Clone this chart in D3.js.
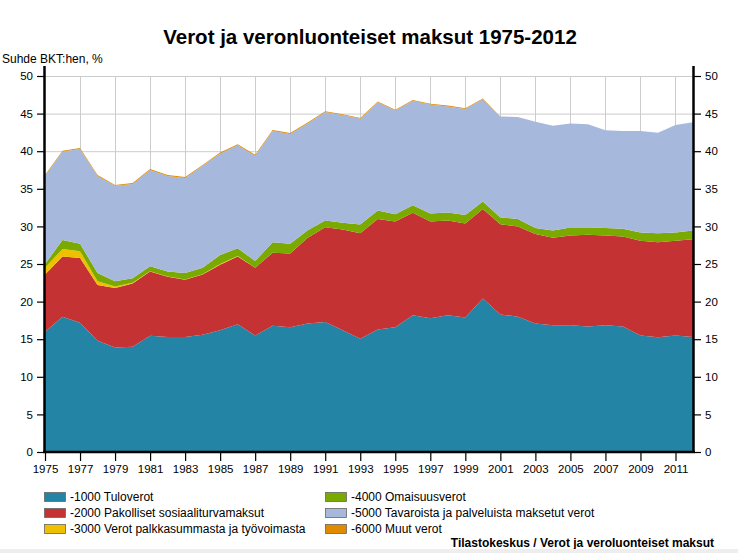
<!DOCTYPE html>
<html>
<head>
<meta charset="utf-8">
<script src="https://cdn.jsdelivr.net/npm/d3@7"></script>
<style>
  html, body { margin: 0; padding: 0; background: #fff; }
  svg { display: block; }
  text { font-family: "Liberation Sans", Arial, Helvetica, sans-serif; }
</style>
</head>
<body>
<svg id="chart" width="738" height="553"></svg>
<script>
// ---- data (share of GDP, %) ----
const years = d3.range(1975, 2013);
const tuloverot = [16.0, 18.0, 17.2, 14.8, 13.9, 14.0, 15.45, 15.3, 15.3, 15.6, 16.2, 17.0, 15.5, 16.8, 16.6, 17.1, 17.3, 16.2, 15.05, 16.3, 16.6, 18.2, 17.8, 18.2, 17.9, 20.4, 18.3, 18.0, 17.1, 16.85, 16.85, 16.7, 16.85, 16.7, 15.5, 15.25, 15.5, 15.3];
const sosiaaliturva = [7.6, 8.0, 8.6, 7.4, 7.9, 8.4, 8.55, 8.0, 7.6, 8.0, 8.7, 9.0, 9.0, 9.7, 9.8, 11.4, 12.6, 13.4, 14.05, 14.7, 14.05, 13.6, 12.85, 12.6, 12.5, 11.9, 12.0, 12.0, 11.9, 11.65, 11.95, 12.2, 11.95, 11.95, 12.6, 12.65, 12.6, 13.0];
const palkkasumma = [0.9, 1.0, 0.9, 0.5, 0.2, 0.1, 0.05, 0.05, 0.05, 0.05, 0.1, 0.05, 0, 0, 0, 0, 0, 0, 0, 0, 0, 0, 0, 0, 0, 0, 0, 0, 0, 0, 0, 0, 0, 0, 0, 0, 0, 0];
const omaisuusverot = [0.5, 1.2, 1.0, 1.1, 0.7, 0.6, 0.65, 0.65, 0.85, 0.85, 1.2, 1.05, 0.9, 1.4, 1.3, 1.0, 0.9, 0.9, 1.15, 1.1, 0.95, 1.0, 1.05, 1.05, 1.1, 1.0, 0.9, 1.0, 0.8, 0.95, 1.05, 0.95, 1.0, 1.05, 1.1, 1.2, 1.1, 1.15];
const tavaraverot = [11.7, 11.75, 12.6, 12.9, 12.7, 12.55, 12.8, 12.7, 12.65, 13.55, 13.5, 13.7, 14.0, 14.8, 14.6, 14.2, 14.4, 14.3, 14.05, 14.4, 13.8, 13.9, 14.5, 14.1, 14.1, 13.6, 13.4, 13.55, 14.1, 13.95, 13.85, 13.75, 13.0, 13.0, 13.5, 13.35, 14.3, 14.4];
const muutverot = [0.12, 0.12, 0.12, 0.12, 0.12, 0.12, 0.12, 0.12, 0.12, 0.12, 0.12, 0.12, 0.12, 0.12, 0.12, 0.12, 0.12, 0.12, 0.12, 0.12, 0.12, 0.12, 0.12, 0.12, 0.12, 0.12, 0, 0, 0, 0, 0, 0, 0, 0, 0, 0, 0, 0];

const seriesNames = ["-1000 Tuloverot", "-2000 Pakolliset sosiaaliturvamaksut", "-3000 Verot palkkasummasta ja työvoimasta", "-4000 Omaisuusverot", "-5000 Tavaroista ja palveluista maksetut verot", "-6000 Muut verot"];
const seriesColors = ["#2384a5", "#c43234", "#eec000", "#7aaa00", "#a6b8db", "#e08a00"];
const yTicks = [0, 5, 10, 15, 20, 25, 30, 35, 40, 45, 50];
const xTickYears = d3.range(1975, 2012, 2);
const titleText = "Verot ja veronluonteiset maksut 1975-2012";
const yLabel = "Suhde BKT:hen, %";
const sourceText = "Tilastokeskus / Verot ja veroluonteiset maksut";

const seriesValues = [tuloverot, sosiaaliturva, palkkasumma, omaisuusverot, tavaraverot, muutverot];
const keys = seriesNames.map((_, i) => "s" + i);
const table = years.map((yr, j) => {
  const row = { year: yr };
  keys.forEach((k, i) => { row[k] = seriesValues[i][j]; });
  return row;
});

// ---- layout ----
const svg = d3.select("#chart");
const pLeft = 45, pRight = 693, pTop = 76, pBottom = 452;

const x = d3.scaleLinear().domain([1975, 2012]).range([pLeft, pRight]);
const y = d3.scaleLinear().domain([0, 50]).range([pBottom, pTop]);

// grid
const grid = svg.append("g");
grid.selectAll("line.h").data(yTicks.filter(d => d > 0)).join("line")
  .attr("x1", pLeft).attr("x2", pRight)
  .attr("y1", d => y(d) + 0.5).attr("y2", d => y(d) + 0.5)
  .attr("stroke", "#cccccc").attr("stroke-width", 1);
grid.selectAll("line.v").data(xTickYears.filter(d => d > 1975)).join("line")
  .attr("x1", d => Math.round(x(d)) + 0.5).attr("x2", d => Math.round(x(d)) + 0.5)
  .attr("y1", pTop).attr("y2", pBottom)
  .attr("stroke", "#cccccc").attr("stroke-width", 1);

// stacked areas
const stack = d3.stack().keys(keys);
const layers = stack(table);
const area = d3.area()
  .x(d => x(d.data.year))
  .y0(d => y(d[0]))
  .y1(d => y(d[1]));

svg.append("g").selectAll("path").data(layers).join("path")
  .attr("d", area)
  .attr("fill", (d, i) => seriesColors[i]);

// axes
const axisLeft = d3.axisLeft(y).tickValues(yTicks).tickSize(7).tickPadding(4);
const axisRight = d3.axisRight(y).tickValues(yTicks).tickSize(7).tickPadding(4);
const axisBottom = d3.axisBottom(x).tickValues(xTickYears).tickFormat(d3.format("d")).tickSize(9).tickPadding(4);

function styleAxis(g) {
  g.select(".domain").remove();
  g.selectAll(".tick line").attr("stroke", "#000").attr("stroke-width", 1.2);
  g.selectAll(".tick text").attr("fill", "#000").style("font-size", "11.5px")
    .style("font-family", "'Liberation Sans', Arial, sans-serif");
}

svg.append("g").attr("transform", `translate(${pLeft - 1},0)`).call(axisLeft).call(styleAxis);
svg.append("g").attr("transform", `translate(${pRight + 1},0)`).call(axisRight).call(styleAxis);
svg.append("g").attr("transform", `translate(0,${pBottom})`).call(axisBottom).call(styleAxis);

// axis lines
svg.append("line").attr("x1", pLeft - 0.5).attr("x2", pLeft - 0.5).attr("y1", 66).attr("y2", pBottom + 1)
  .attr("stroke", "#000").attr("stroke-width", 2.5);
svg.append("line").attr("x1", pRight + 0.5).attr("x2", pRight + 0.5).attr("y1", 66).attr("y2", pBottom + 1)
  .attr("stroke", "#000").attr("stroke-width", 2.5);
svg.append("line").attr("x1", pLeft - 2).attr("x2", pRight + 2).attr("y1", pBottom).attr("y2", pBottom)
  .attr("stroke", "#000").attr("stroke-width", 2.5);

// title & labels
svg.append("text").attr("x", 370).attr("y", 44).attr("text-anchor", "middle")
  .style("font-size", "20.5px").style("font-weight", "bold").text(titleText);
svg.append("text").attr("x", 2).attr("y", 63).style("font-size", "12px").attr("fill", "#000").text(yLabel);

// legend
const legend = svg.append("g");
const legendPos = [[44, 497], [44, 513], [44, 529], [325, 497], [325, 513], [325, 529]];
seriesNames.forEach((name, i) => {
  const [lx, ly] = legendPos[i];
  legend.append("rect").attr("x", lx + 0.5).attr("y", ly - 4.5).attr("width", 21).attr("height", 9)
    .attr("fill", seriesColors[i]).attr("stroke", "#666").attr("stroke-width", 0.8);
  legend.append("text").attr("x", lx + 26).attr("y", ly + 4).style("font-size", "12px").text(name);
});

svg.append("text").attr("x", 714).attr("y", 547).attr("text-anchor", "end")
  .style("font-size", "12px").style("font-weight", "bold").text(sourceText);

svg.append("rect").attr("x", 0).attr("y", 549).attr("width", 738).attr("height", 4).attr("fill", "#eeeeee");
</script>
</body>
</html>
